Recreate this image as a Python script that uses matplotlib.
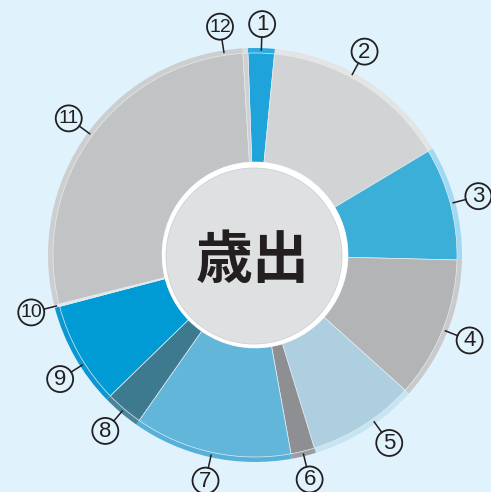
import numpy as np
import matplotlib
matplotlib.use("Agg")
import matplotlib.pyplot as plt
from matplotlib import font_manager
from matplotlib.patches import Circle

labels = ["1", "2", "3", "4", "5", "6", "7", "8", "9", "10", "11", "12"]
shares = [2.1, 14.9, 9.0, 11.3, 8.6, 1.9, 12.6, 3.0, 8.2, 0.2, 28.0, 0.4]
colors = ["#1ea3da", "#d2d3d5", "#3cafd9", "#b3b4b6", "#aecfe0", "#8e8f93",
          "#62b6da", "#3e7a8f", "#009bd4", "#dfe8ee", "#c2c3c5", "#cfd0d2"]
rim_colors = ["#2aaae0", "#e4e4e5", "#a0d9f3", "#c9cacc", "#c7e4f3", "#9c9da0",
              "#56b0da", "#4a8499", "#0b97cf", "#e8f2f7", "#cdcecf", "#dcdcdd"]
label_nudge = [0, -4, 0, 0, -3, 0, 0, 0, -3, 0, 0, -6]  # degrees
title = "歳出"

bg = "#e0f2fc"
names = {f.name for f in font_manager.fontManager.ttflist}
num_font = "Liberation Sans" if "Liberation Sans" in names else "DejaVu Sans"

fig = plt.figure(figsize=(4.91, 4.92), dpi=100)
fig.patch.set_facecolor(bg)
ax = fig.add_axes([0, 0, 1, 1])
ax.set_facecolor(bg)

cx, cy = 255, 237
r_out, r_rim, r_in = 207, 202, 93
start = -2.0  # degrees clockwise from 12 o'clock

ax.pie(shares, colors=rim_colors, radius=r_out, center=(cx, cy),
       startangle=90 - start, counterclock=False,
       wedgeprops=dict(width=r_out - r_rim + 1, linewidth=0))
ax.pie(shares, colors=colors, radius=r_rim, center=(cx, cy),
       startangle=90 - start, counterclock=False,
       wedgeprops=dict(width=r_rim - r_in, linewidth=0.5, edgecolor="#e4ecf0"))

# centre disc
ax.add_patch(Circle((cx, cy), r_in, facecolor="white", edgecolor="none", zorder=3))
ax.add_patch(Circle((cx - 1, cy - 1), r_in - 5, facecolor="#dfe0e2",
                    edgecolor="#cfd0d2", linewidth=0.6, zorder=4))
ax.text(cx - 2, cy - 6, title, ha="center", va="center", fontsize=41,
        fontweight="bold", color="#231f20",
        family=["Noto Sans CJK JP", "DejaVu Sans"], zorder=5)

# numbered callouts
total = sum(shares)
cum = 0.0
for lab, s, nd in zip(labels, shares, label_nudge):
    mid = start + (cum + s / 2) / total * 360 + nd
    cum += s
    t = np.deg2rad(mid)
    dx, dy = np.sin(t), np.cos(t)
    ax.plot([cx + 205 * dx, cx + 218 * dx], [cy + 205 * dy, cy + 218 * dy],
            color="#231f20", lw=1.1, zorder=6)
    lx, ly = cx + 231 * dx, cy + 231 * dy
    ax.add_patch(Circle((lx, ly), 13, facecolor="none", edgecolor="#231f20",
                        linewidth=1.3, zorder=6))
    fs = 16 if len(lab) == 1 else 14
    ax.text(lx, ly - 0.5, lab, ha="center", va="center", fontsize=fs,
            family=num_font, color="#231f20", zorder=7)

ax.set_xlim(0, 491)
ax.set_ylim(0, 492)
ax.set_aspect("equal")
ax.axis("off")

fig.savefig("out.png", dpi=100, facecolor=bg)
